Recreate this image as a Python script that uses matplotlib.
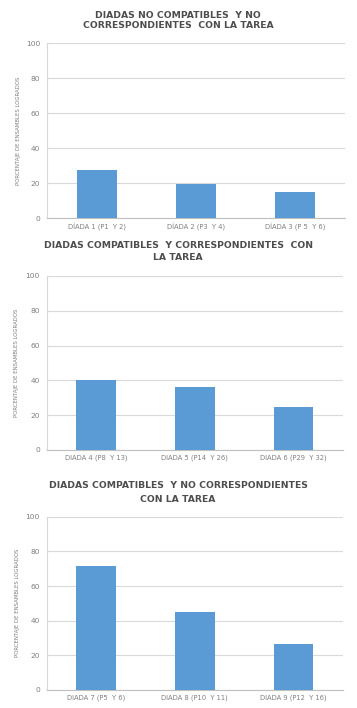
import numpy as np
from matplotlib import pyplot as plt

# valores (porcentaje de ensambles logrados)
titulos = [
    ["DIADAS NO COMPATIBLES  Y NO", "CORRESPONDIENTES  CON LA TAREA"],
    ["DIADAS COMPATIBLES  Y CORRESPONDIENTES  CON", "LA TAREA"],
    ["DIADAS COMPATIBLES  Y NO CORRESPONDIENTES", "CON LA TAREA"],
]
cats1 = ["DÍADA 1 (P1  Y 2)", "DÍADA 2 (P3  Y 4)", "DÍADA 3 (P 5  Y 6)"]
cats2 = ["DIADA 4 (P8  Y 13)", "DIADA 5 (P14  Y 26)", "DIADA 6 (P29  Y 32)"]
cats3 = ["DIADA 7 (P5  Y 6)", "DIADA 8 (P10  Y 11)", "DIADA 9 (P12  Y 16)"]
vals1 = [27.6, 19.8, 15.0]
vals2 = [40.2, 36.2, 24.7]
vals3 = [71.5, 45.0, 26.5]
ylabel = "PORCENTAJE DE ENSAMBLES LOGRADOS"
yticks = [0, 20, 40, 60, 80, 100]

BAR = "#5B9BD5"
TXT = "#4D4D4D"
TICK = "#7F7F7F"
GRID = "#D9D9D9"

fig = plt.figure(figsize=(3.57, 7.08), dpi=100)
W, H = 357.0, 708.0

# caja de cada eje en pixeles: (izq, arriba, der, abajo)
cajas = [(47, 43.3, 345, 218.3), (46.7, 276, 343, 450), (46.7, 516.7, 343, 690)]
# posiciones de las lineas de titulo (pixeles desde arriba)
lineas_t = [(15, 25.7), (245, 258), (485.7, 499)]
ylab_x = [21, 19.5, 20]

datos = [(cats1, vals1), (cats2, vals2), (cats3, vals3)]

for i, (cats, vals) in enumerate(datos):
    l, t, r, b = cajas[i]
    ax = fig.add_axes([l / W, 1 - b / H, (r - l) / W, (b - t) / H])
    x = np.arange(len(cats))
    ax.bar(x, vals, width=0.4, color=BAR, zorder=3)
    ax.set_xlim(-0.5, 2.5)
    ax.set_ylim(0, 100)
    ax.set_yticks(yticks)
    ax.set_xticks(x)
    ax.set_xticklabels(cats, fontsize=4.9, color=TICK)
    ax.tick_params(axis='y', length=0, pad=5, labelsize=5.4, labelcolor=TICK)
    ax.tick_params(axis='x', length=0, pad=3.3)
    ax.yaxis.grid(True, color=GRID, linewidth=0.8, zorder=0)
    for s in ["top", "right"]:
        ax.spines[s].set_visible(False)
    ax.spines["left"].set_color(GRID)
    ax.spines["left"].set_linewidth(0.8)
    ax.spines["bottom"].set_color("#BFBFBF")
    ax.spines["bottom"].set_linewidth(0.8)
    ax.set_ylabel(ylabel, fontsize=3.9, color=TICK)
    ax.yaxis.set_label_coords((ylab_x[i] - l) / (r - l), 0.5)
    for txt, yy in zip(titulos[i], lineas_t[i]):
        fig.text(178 / W, 1 - yy / H, txt, ha='center', va='center',
                 fontsize=6.7, fontweight='bold', color=TXT)

fig.savefig("out.png", dpi=100)
